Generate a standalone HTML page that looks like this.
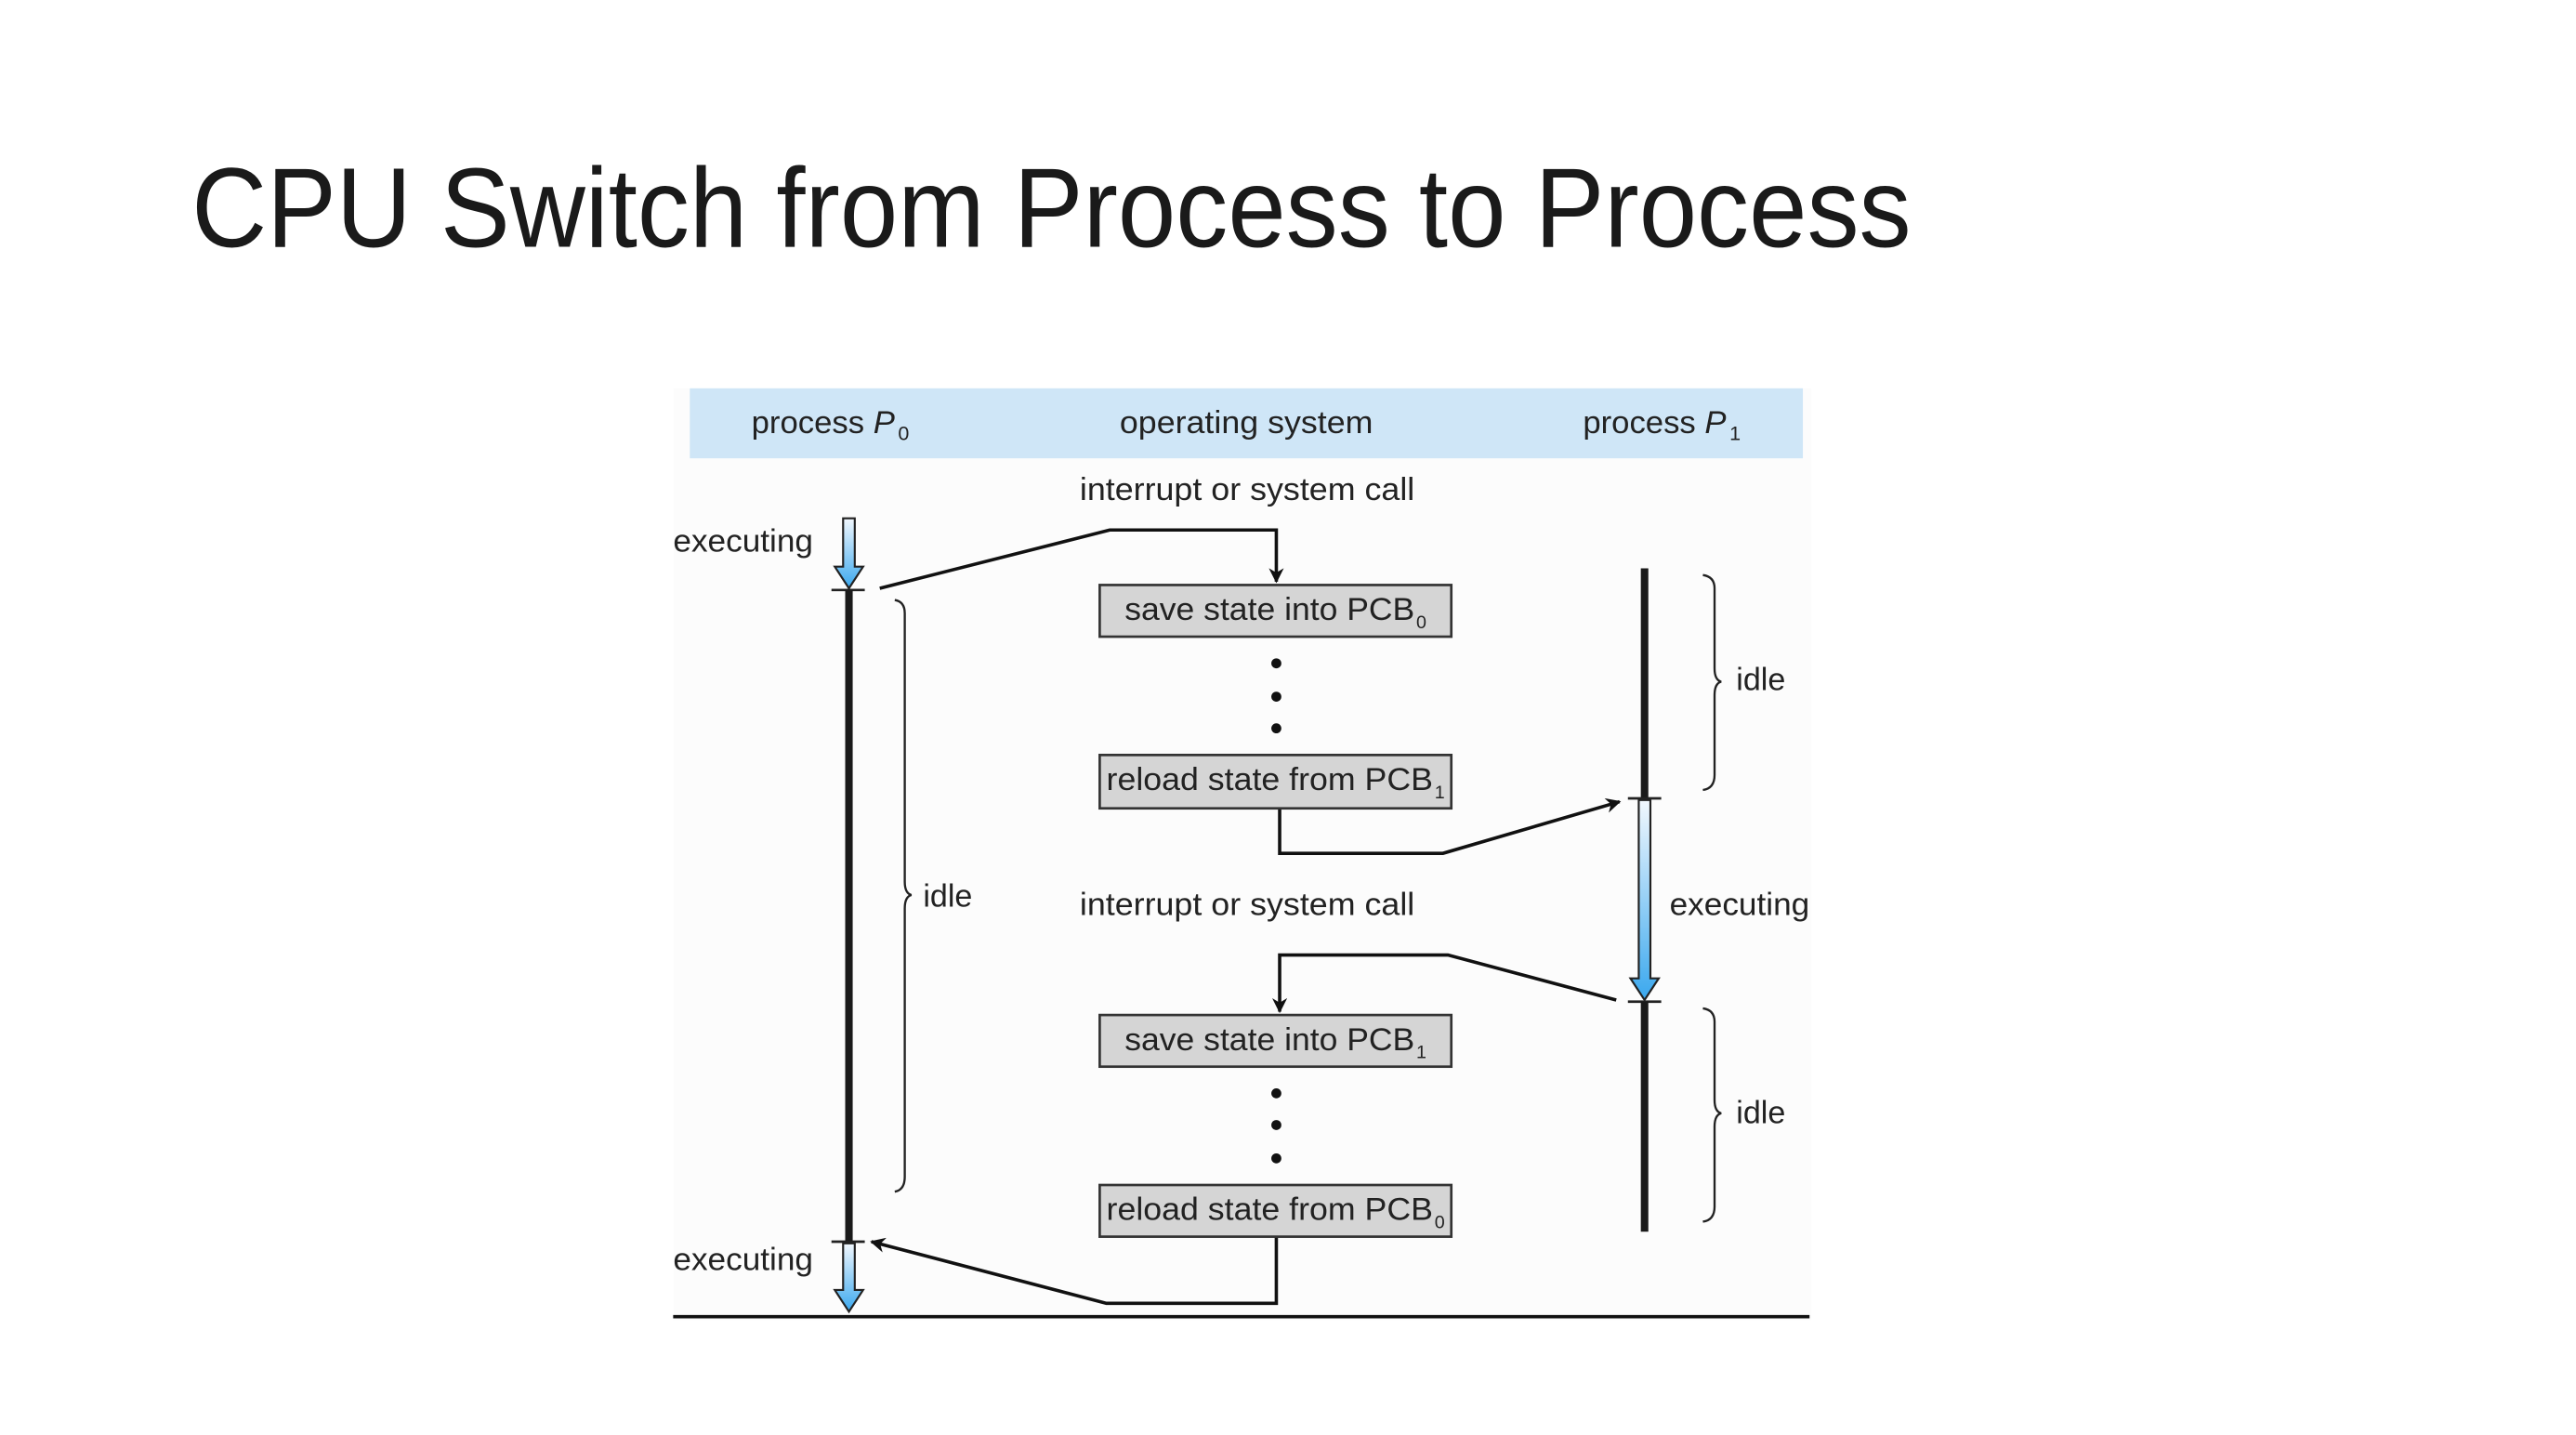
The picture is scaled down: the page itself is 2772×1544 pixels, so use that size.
<!DOCTYPE html>
<html><head><meta charset="utf-8"><style>
html,body{margin:0;padding:0;background:#fff;}
svg{display:block;}
text{font-family:"Liberation Sans",Arial,sans-serif;fill:#222;}
</style></head><body>
<svg width="2772" height="1544" viewBox="0 0 1546 861" preserveAspectRatio="none" xmlns="http://www.w3.org/2000/svg">
<defs>
<linearGradient id="bg" x1="0" y1="0" x2="0" y2="1"><stop offset="0" stop-color="#f2f8fe"/><stop offset="1" stop-color="#3aa8ee"/></linearGradient>
<marker id="ah" viewBox="0 0 10 10" refX="9" refY="5" markerWidth="9" markerHeight="9" orient="auto" markerUnits="userSpaceOnUse"><path d="M0,0 L10,5 L0,10 L3,5 z" fill="#111"/></marker>
</defs>
<rect width="1546" height="861" fill="#fff"/>
<text x="115" y="148" font-size="68" textLength="1032" lengthAdjust="spacingAndGlyphs" style="fill:#1a1a1a;font-weight:300">CPU Switch from Process to Process</text>

<rect x="404" y="233" width="683" height="559" fill="#fcfcfc"/>
<rect x="414" y="233" width="668" height="42" fill="#cfe6f7"/>
<text x="451" y="260" font-size="19" textLength="86" lengthAdjust="spacingAndGlyphs">process <tspan font-style="italic">P</tspan></text>
<text x="539" y="264" font-size="12">0</text>
<text x="672" y="260" font-size="19" textLength="152" lengthAdjust="spacingAndGlyphs">operating system</text>
<text x="950" y="260" font-size="19" textLength="86" lengthAdjust="spacingAndGlyphs">process <tspan font-style="italic">P</tspan></text>
<text x="1038" y="264" font-size="12">1</text>

<text x="648" y="300" font-size="19" textLength="201" lengthAdjust="spacingAndGlyphs">interrupt or system call</text>
<text x="648" y="549" font-size="19" textLength="201" lengthAdjust="spacingAndGlyphs">interrupt or system call</text>
<text x="404" y="331" font-size="19" textLength="84" lengthAdjust="spacingAndGlyphs">executing</text>
<text x="404" y="762" font-size="19" textLength="84" lengthAdjust="spacingAndGlyphs">executing</text>
<text x="1002" y="549" font-size="19" textLength="84" lengthAdjust="spacingAndGlyphs">executing</text>
<text x="554" y="544" font-size="19">idle</text>
<text x="1042" y="414" font-size="19">idle</text>
<text x="1042" y="674" font-size="19">idle</text>

<path d="M506,311 h7 v29 h5 l-8.5,13 l-8.5,-13 h5 z" fill="url(#bg)" stroke="#222" stroke-width="1.2"/>
<line x1="499" y1="354" x2="519" y2="354" stroke="#222" stroke-width="1.5"/>
<line x1="509.5" y1="354" x2="509.5" y2="745" stroke="#1a1a1a" stroke-width="4.5"/>
<line x1="499" y1="745" x2="519" y2="745" stroke="#222" stroke-width="1.5"/>
<path d="M506,746 h7 v28 h5 l-8.5,13 l-8.5,-13 h5 z" fill="url(#bg)" stroke="#222" stroke-width="1.2"/>
<line x1="404" y1="790" x2="1086" y2="790" stroke="#111" stroke-width="2"/>

<line x1="987" y1="341" x2="987" y2="479" stroke="#1a1a1a" stroke-width="4.5"/>
<line x1="977" y1="479" x2="997" y2="479" stroke="#222" stroke-width="1.5"/>
<path d="M983.5,480 h7 v107 h5 l-8.5,13 l-8.5,-13 h5 z" fill="url(#bg)" stroke="#222" stroke-width="1.2"/>
<line x1="977" y1="601" x2="997" y2="601" stroke="#222" stroke-width="1.5"/>
<line x1="987" y1="601" x2="987" y2="739" stroke="#1a1a1a" stroke-width="4.5"/>

<g fill="none" stroke="#222" stroke-width="1.3">
<path d="M537,360 q6,1 6,8 v161 q0,7 4,8 q-4,1 -4,8 v161 q0,8 -6,9"/>
<path d="M1022,345 q7,1 7,8 v48 q0,7 4,8 q-4,1 -4,8 v48 q0,8 -7,9"/>
<path d="M1022,605 q7,1 7,8 v47 q0,7 4,8 q-4,1 -4,8 v48 q0,8 -7,9"/>
</g>

<g fill="none" stroke="#111" stroke-width="2">
<polyline points="528,353 666,318 766,318 766,349" marker-end="url(#ah)"/>
<polyline points="768,485 768,512 866,512 972,481" marker-end="url(#ah)"/>
<polyline points="970,600 869,573 768,573 768,607" marker-end="url(#ah)"/>
<polyline points="766,742 766,782 664,782 523,745" marker-end="url(#ah)"/>
</g>

<g fill="#d5d5d5" stroke="#333" stroke-width="1.5">
<rect x="660" y="351" width="211" height="31"/>
<rect x="660" y="453" width="211" height="32"/>
<rect x="660" y="609" width="211" height="31"/>
<rect x="660" y="711" width="211" height="31"/>
</g>
<text x="675" y="372" font-size="19" textLength="174" lengthAdjust="spacingAndGlyphs">save state into PCB</text><text x="850" y="377" font-size="11">0</text>
<text x="664" y="474" font-size="19" textLength="196" lengthAdjust="spacingAndGlyphs">reload state from PCB</text><text x="861" y="479" font-size="11">1</text>
<text x="675" y="630" font-size="19" textLength="174" lengthAdjust="spacingAndGlyphs">save state into PCB</text><text x="850" y="635" font-size="11">1</text>
<text x="664" y="732" font-size="19" textLength="196" lengthAdjust="spacingAndGlyphs">reload state from PCB</text><text x="861" y="737" font-size="11">0</text>

<g fill="#111">
<circle cx="766" cy="398" r="3"/><circle cx="766" cy="418" r="3"/><circle cx="766" cy="437" r="3"/>
<circle cx="766" cy="656" r="3"/><circle cx="766" cy="675" r="3"/><circle cx="766" cy="695" r="3"/>
</g>
</svg>
</body></html>
